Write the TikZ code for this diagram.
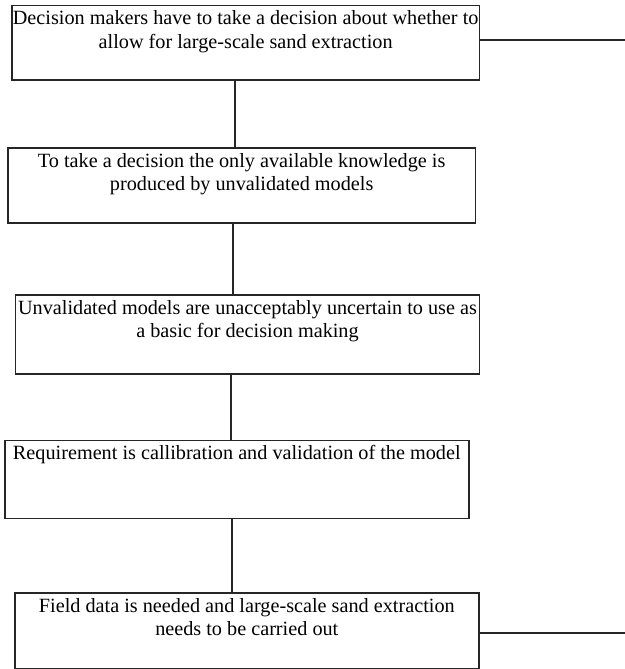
\documentclass[tikz,border=0pt]{standalone}
\usepackage{fontspec}
\setmainfont{Liberation Serif}
\usetikzlibrary{positioning, calc}
\newcommand{\boxtext}[3]{\parbox[c][#2][t]{#1}{\centering\rule{0pt}{19bp}#3}}

\begin{document}
\begin{tikzpicture}[x=1bp, y=-1bp,
    flowbox/.style={draw=black!85, line width=1.6bp, inner sep=0pt, anchor=north west,
      font=\fontsize{20.3}{23.8}\selectfont},
    link/.style={draw=black!85, line width=1.6bp}]
  \useasboundingbox (0,0) rectangle (625,669);

  % Boxes
  \node[flowbox] (decide) at (11,4.7) {\boxtext{467.7bp}{74.3bp}{Decision makers have to take a decision about whether to\\ allow for large-scale sand extraction}};
  \node[flowbox] (knowledge) at (7,147.3) {\boxtext{467.7bp}{74.7bp}{To take a decision the only available knowledge is\\ produced by unvalidated models}};
  \node[flowbox] (uncertain) at (14.7,294.3) {\boxtext{464bp}{78.7bp}{Unvalidated models are unacceptably uncertain to use as\\ a basic for decision making}};
  \node[flowbox] (require) at (4,439.7) {\boxtext{464bp}{78bp}{Requirement is callibration and validation of the model}};
  \node[flowbox] (fielddata) at (14,592.3) {\boxtext{464bp}{75.7bp}{Field data is needed and large-scale sand extraction\\ needs to be carried out}};

  % Vertical links
  \coordinate (colA) at (235,0);
  \coordinate (colB) at (233,0);
  \coordinate (colC) at (231,0);
  \coordinate (colD) at (232,0);
  \draw[link] (decide.south -| colA) -- (knowledge.north -| colA);
  \draw[link] (knowledge.south -| colB) -- (uncertain.north -| colB);
  \draw[link] (uncertain.south -| colC) -- (require.north -| colC);
  \draw[link] (require.south -| colD) -- (fielddata.north -| colD);

  % Lines out to the right
  \coordinate (outTop) at (625,40);
  \coordinate (outBot) at (625,633);
  \draw[link] (outTop -| decide.east) -- (outTop);
  \draw[link] (outBot -| fielddata.east) -- (outBot);
\end{tikzpicture}
\end{document}
